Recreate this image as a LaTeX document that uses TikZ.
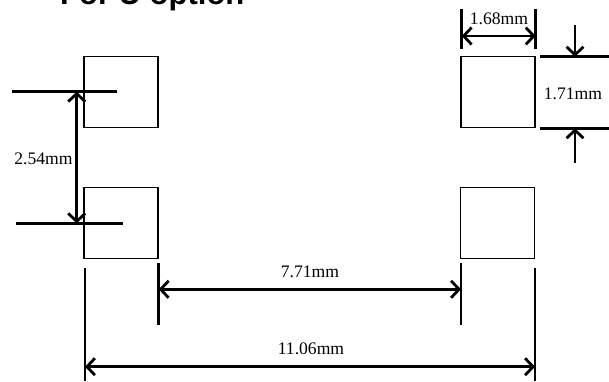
\documentclass[tikz,border=0pt]{standalone}
\usepackage{fontspec}
\setmainfont{Liberation Serif}
\newfontfamily\titlefont{Liberation Sans}
\usetikzlibrary{arrows.meta}
\tikzset{
  pad/.style={draw, line width=1.8pt, inner sep=0pt, minimum width=74pt, minimum height=71pt},
  ext/.style={line width=2.8pt},
  dimboth/.style={line width=2.8pt, {Straight Barb[length=8pt,width=17pt]}-{Straight Barb[length=8pt,width=17pt]}},
  dimone/.style={line width=2.8pt, -{Straight Barb[length=8pt,width=17pt]}},
  lbl/.style={inner sep=0pt, font=\fontsize{17.6}{20}\selectfont},
  ttl/.style={inner sep=0pt, anchor=base west, font=\titlefont\bfseries\fontsize{31}{36}\selectfont}
}
\begin{document}
\begin{tikzpicture}[x=1pt,y=-1pt]
\useasboundingbox (0,0) rectangle (609,381);
% title (cut off at top)
\node[ttl] (title) at (60,4.5) {For U option};
% pads
\node[pad] (tl) at (121.3,92) {};
\node[pad] (bl) at (121.3,223) {};
\node[pad] (tr) at (498.2,92) {};
\node[pad] (br) at (497.5,223) {};
% 2.54mm
\coordinate (a1) at (11.7,91.7);
\coordinate (a2) at (117,91.7);
\coordinate (b1) at (16,223.3);
\coordinate (b2) at (123,223.3);
\draw[ext] (a1) -- (a2);
\draw[ext] (b1) -- (b2);
\coordinate (p1) at (76.7,91.7);
\coordinate (p2) at (76.7,223.3);
\draw[dimboth] (p1) -- (p2);
\node[lbl] (l254) at (43.5,158.5) {2.54mm};
% 1.68mm
\coordinate (c1) at (461.7,9);
\coordinate (c2) at (461.7,49);
\coordinate (d1) at (535.7,9);
\coordinate (d2) at (535.7,49);
\draw[ext] (c1) -- (c2);
\draw[ext] (d1) -- (d2);
\coordinate (q1) at (461.7,36);
\coordinate (q2) at (535.7,36);
\draw[dimboth] (q1) -- (q2);
\node[lbl] (l168) at (499,19) {1.68mm};
% 1.71mm
\coordinate (e1) at (540,56.7);
\coordinate (e2) at (609,56.7);
\coordinate (f1) at (540,128.3);
\coordinate (f2) at (609,128.3);
\draw[ext] (e1) -- (e2);
\draw[ext] (f1) -- (f2);
\coordinate (r1) at (575,25);
\coordinate (r2) at (575,56.7);
\coordinate (s1) at (575,163);
\coordinate (s2) at (575,128.3);
\draw[dimone] (r1) -- (r2);
\draw[dimone] (s1) -- (s2);
\node[lbl] (l171) at (573,93.5) {1.71mm};
% 7.71mm
\coordinate (g1) at (158.7,262.7);
\coordinate (g2) at (158.7,324.5);
\coordinate (h1) at (461,262.7);
\coordinate (h2) at (461,324.5);
\draw[ext] (g1) -- (g2);
\draw[ext] (h1) -- (h2);
\coordinate (t1) at (158.7,289.3);
\coordinate (t2) at (461,289.3);
\draw[dimboth] (t1) -- (t2);
\node[lbl] (l771) at (310,272) {7.71mm};
% 11.06mm
\coordinate (i1) at (85,268);
\coordinate (i2) at (85,381);
\coordinate (j1) at (535,268);
\coordinate (j2) at (535,381);
\draw[ext] (i1) -- (i2);
\draw[ext] (j1) -- (j2);
\coordinate (u1) at (85,366.7);
\coordinate (u2) at (535,366.7);
\draw[dimboth] (u1) -- (u2);
\node[lbl] (l1106) at (311,348.5) {11.06mm};
\end{tikzpicture}
\end{document}
